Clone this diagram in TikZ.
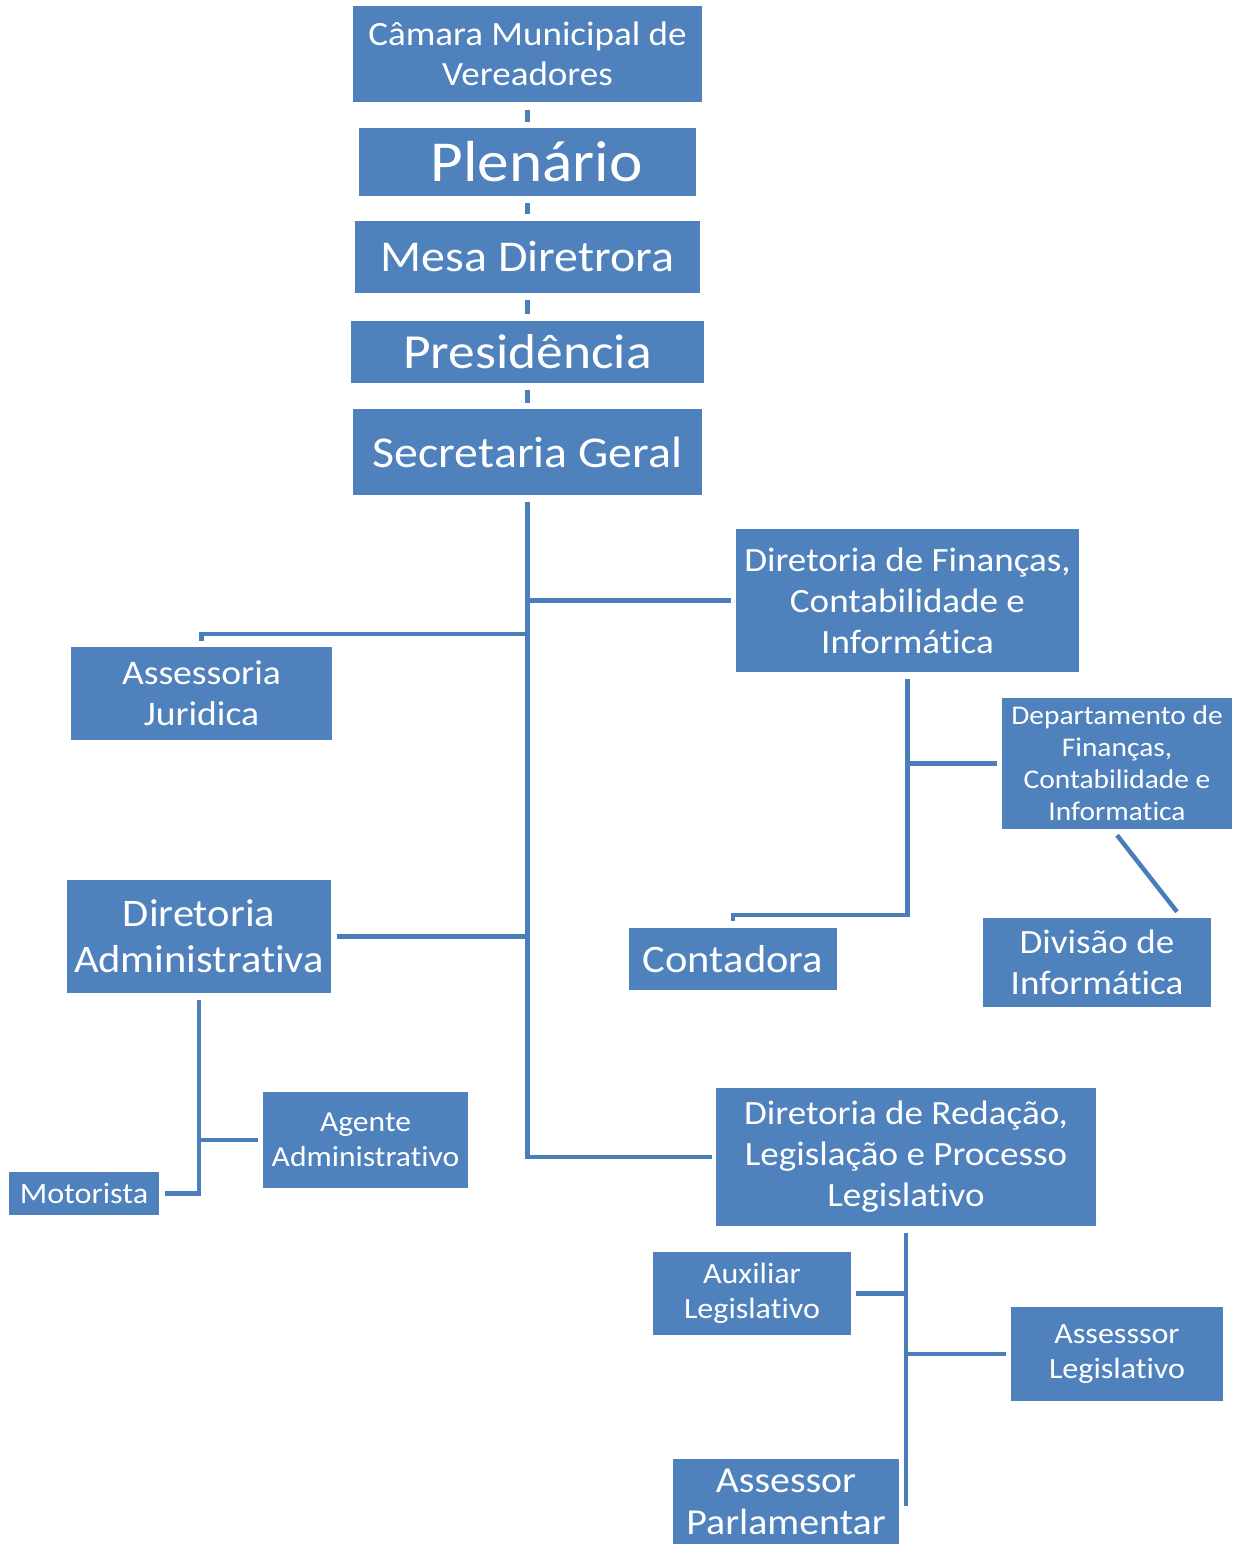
\documentclass[tikz,border=0pt]{standalone}
\usepackage{fontspec}
\setmainfont{Carlito}[FakeStretch=1.09, Ligatures=NoCommon]
\definecolor{boxblue}{HTML}{4F81BD}
\definecolor{lineblue}{HTML}{4A7EBB}
\begin{document}
\begin{tikzpicture}[x=1pt, y=-1pt,
    box/.style={fill=boxblue, text=white, align=center, inner sep=0pt},
    conn/.style={draw=lineblue, line width=4.5pt}]
\useasboundingbox (0,0) rectangle (1234,1544);
\clip (0,0) rectangle (1234,1544);

\node[box, minimum width=349pt, minimum height=96pt, font=\fontsize{34}{40}\selectfont] (cam) at (527.5,54) {Câmara Municipal de\\Vereadores};
\node[box, minimum width=337pt, minimum height=68pt, font=\fontsize{58}{70}\selectfont] (plen) at (527.5,162) {\hspace*{18pt}Plenário};
\node[box, minimum width=345pt, minimum height=72pt, font=\fontsize{44}{52}\selectfont] (mesa) at (527.5,257) {Mesa Diretrora};
\node[box, minimum width=353pt, minimum height=62pt, font=\fontsize{49}{56}\selectfont] (pres) at (527.5,352) {Presidência};
\node[box, minimum width=349pt, minimum height=86pt, font=\fontsize{44}{52}\selectfont] (sec) at (527.5,452) {Secretaria Geral};

\node[box, minimum width=343pt, minimum height=143pt, font=\fontsize{34}{41}\selectfont] (dirfin) at (907.5,600.5) {Diretoria de Finanças,\\Contabilidade e\\Informática};
\node[box, minimum width=261pt, minimum height=93pt, font=\fontsize{34.5}{41}\selectfont] (assjur) at (201.5,693.5) {Assessoria\\Juridica};
\node[box, minimum width=230pt, minimum height=131pt, font=\fontsize{27}{32}\selectfont] (dept) at (1117,763.5) {Departamento de\\Finanças,\\Contabilidade e\\Informatica};
\node[box, minimum width=208pt, minimum height=62pt, font=\fontsize{39}{48}\selectfont] (contadora) at (733,959) {Contadora};
\node[box, minimum width=228pt, minimum height=89pt, font=\fontsize{34}{41}\selectfont] (divisao) at (1097,962.5) {Divisão de\\Informática};

\node[box, minimum width=264pt, minimum height=113pt, font=\fontsize{39}{46}\selectfont] (diradm) at (199,936.5) {Diretoria\\Administrativa};
\node[box, minimum width=205pt, minimum height=96pt, font=\fontsize{29}{35}\selectfont] (agente) at (365.5,1140) {Agente\\Administrativo};
\node[box, minimum width=150pt, minimum height=43pt, font=\fontsize{29.5}{35}\selectfont] (motorista) at (84,1193.5) {Motorista};

\node[box, minimum width=380pt, minimum height=138pt, font=\fontsize{34}{41}\selectfont] (dirred) at (906,1157) {Diretoria de Redação,\\Legislação e Processo\\Legislativo};
\node[box, minimum width=198pt, minimum height=83pt, font=\fontsize{29.4}{35}\selectfont] (aux) at (752,1293.5) {Auxiliar\\Legislativo};
\node[box, minimum width=212pt, minimum height=94pt, font=\fontsize{29.4}{35}\selectfont] (asl) at (1117,1354) {Assesssor\\Legislativo};
\node[box, minimum width=226pt, minimum height=86pt, font=\fontsize{36.6}{42}\selectfont] (parl) at (786,1502) {Assessor\\Parlamentar};

\draw[conn] ([yshift=-8pt]cam.south) -- ([yshift=6pt]plen.north);
\draw[conn] ([yshift=-7pt]plen.south) -- ([yshift=7pt]mesa.north);
\draw[conn] ([yshift=-7pt]mesa.south) -- ([yshift=7pt]pres.north);
\draw[conn] ([yshift=-7pt]pres.south) -- ([yshift=6pt]sec.north);

\draw[conn] ([yshift=-7pt]sec.south) |- ([xshift=-4pt]dirred.west);
\draw[conn] (sec.south |- dirfin.west) -- ([xshift=-5pt]dirfin.west);
\draw[conn] (sec.south |- 0,634) -| ([yshift=6pt]assjur.north);
\draw[conn] ([xshift=6pt]diradm.east) -- (sec.south |- diradm.east);

\draw[conn] ([yshift=-7pt]dirfin.south) |- ([yshift=13pt]contadora.north) -- ([yshift=7pt]contadora.north);
\draw[conn] (dirfin.south |- dept.west) -- ([xshift=-5pt]dept.west);
\draw[conn] ([yshift=-6pt]dept.south) -- ([xshift=80pt,yshift=6pt]divisao.north);

\draw[conn] ([yshift=-7pt]diradm.south) |- ([xshift=6pt]motorista.east);
\draw[conn] (diradm.south |- agente.west) -- ([xshift=-5pt]agente.west);

\draw[conn] ([yshift=-7pt]dirred.south) -- ([yshift=-4pt]dirred.south |- parl.east);
\draw[conn] (dirred.south |- aux.east) -- ([xshift=5pt]aux.east);
\draw[conn] (dirred.south |- asl.west) -- ([xshift=-5pt]asl.west);
\end{tikzpicture}
\end{document}
